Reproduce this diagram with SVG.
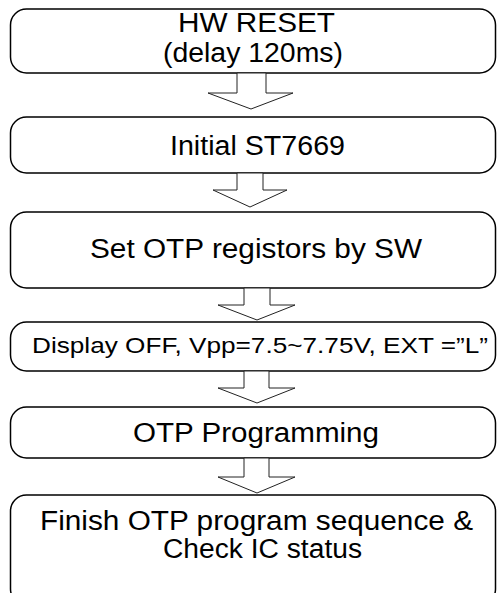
<svg xmlns="http://www.w3.org/2000/svg" width="497" height="593" viewBox="0 0 497 593">
<style>
.box{fill:#fff;stroke:#000;stroke-width:1.5}
.t{font-family:"Liberation Sans",Arial,sans-serif;font-size:27px;fill:#000;text-anchor:middle}
.s{font-size:22.5px}
.arr{fill:#fff;stroke:#222;stroke-width:1}
</style>
<rect width="497" height="593" fill="#fff"/>
<g id="n1"><rect class="box" x="10.5" y="9" width="485" height="64" rx="16"/>
<text class="t" x="256.5" y="32" textLength="157" lengthAdjust="spacingAndGlyphs">HW RESET</text>
<text class="t" x="253" y="62" textLength="180" lengthAdjust="spacingAndGlyphs">(delay 120ms)</text></g>
<g id="n2"><rect class="box" x="10.5" y="117" width="485" height="56" rx="16"/>
<text class="t" x="257.5" y="155" textLength="175" lengthAdjust="spacingAndGlyphs">Initial ST7669</text></g>
<g id="n3"><rect class="box" x="10.5" y="212" width="485" height="76" rx="16"/>
<text class="t" x="256" y="258" textLength="332" lengthAdjust="spacingAndGlyphs">Set OTP registors by SW</text></g>
<g id="n4"><rect class="box" x="10.5" y="322" width="485" height="49" rx="16"/>
<text class="t s" x="260" y="353" textLength="456" lengthAdjust="spacingAndGlyphs">Display OFF, Vpp=7.5~7.75V, EXT =”L”</text></g>
<g id="n5"><rect class="box" x="10.5" y="407" width="485" height="51" rx="16"/>
<text class="t" x="256" y="442" textLength="246" lengthAdjust="spacingAndGlyphs">OTP Programming</text></g>
<g id="n6"><rect class="box" x="10.5" y="495" width="485" height="110" rx="16"/>
<text class="t" x="256.5" y="530" textLength="433" lengthAdjust="spacingAndGlyphs">Finish OTP program sequence &amp;</text>
<text class="t" x="262.5" y="558" textLength="199" lengthAdjust="spacingAndGlyphs">Check IC status</text></g>
<g id="connectors">
<polygon class="arr" points="237,73 237,93 208,93 251,109 293,93 266,93 266,73"/>
<polygon class="arr" points="237,173 237,190 213,190 250,207 287,190 263,190 263,173"/>
<polygon class="arr" points="244,288 244,305 218,305 257,320 295,305 270,305 270,288"/>
<polygon class="arr" points="244,371 244,388 218,388 257,403 295,388 269,388 269,371"/>
<polygon class="arr" points="244,458 244,477 218,477 257,493 295,477 269,477 269,458"/>
</g>
</svg>
